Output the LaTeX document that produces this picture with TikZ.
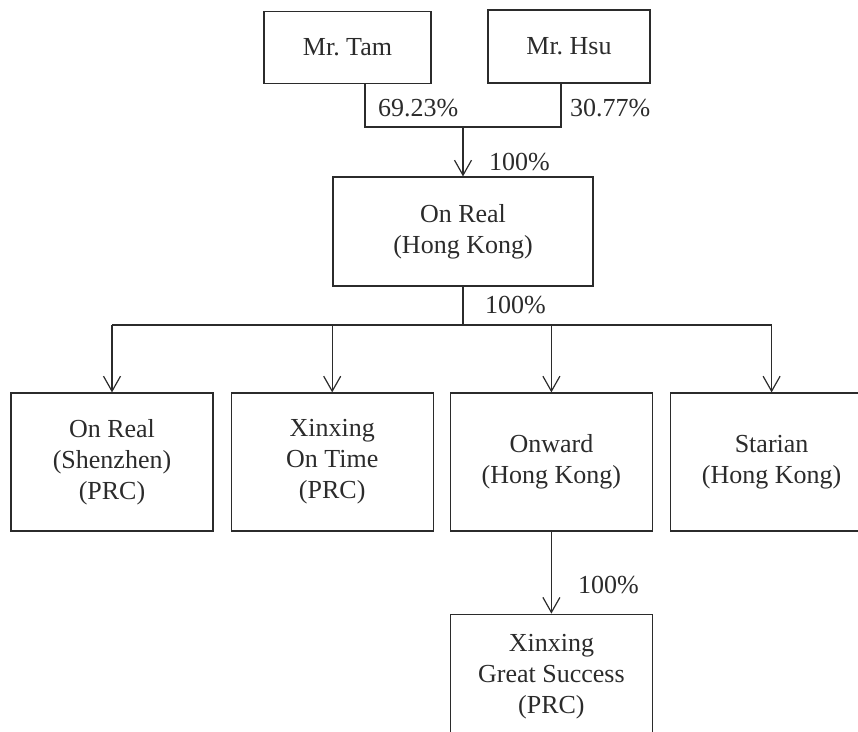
\documentclass[tikz,border=0pt]{standalone}
\usepackage{fontspec}
\setmainfont{Liberation Serif}
\frenchspacing
\usetikzlibrary{arrows.meta, positioning}
\definecolor{ink}{HTML}{2B2B2B}
\tikzset{
  entity/.style={rectangle, draw=ink, line width=1.2pt, align=center, text=ink,
    minimum width=202pt, minimum height=138pt, inner sep=0pt,
    font=\fontsize{26}{31}\selectfont},
  owner/.style={entity, minimum height=72pt},
  pct/.style={text=ink, inner sep=0pt, font=\fontsize{26}{31}\selectfont},
  link/.style={draw=ink, line width=1.2pt},
  arrow/.style={link, -{Straight Barb[length=15pt, width=17pt, line width=1.2pt]}},
}
\begin{document}
\begin{tikzpicture}[x=1pt, y=-1pt, node distance=0pt]
\useasboundingbox (0,0) rectangle (858,731);
\node[owner, minimum width=167pt] (tam) at (347.5,47.5) {Mr. Tam};
\node[owner, minimum width=162pt, minimum height=73pt] (hsu) at (569,46.5) {Mr. Hsu};
\node[entity, minimum width=260pt, minimum height=109pt] (onrealhk) at (463,231.5) {On Real\\(Hong Kong)};
\node[entity] (onrealsz) at (112,462) {On Real\\(Shenzhen)\\(PRC)};
\node[entity, right=17pt of onrealsz] (ontime) {Xinxing\\On Time\\(PRC)};
\node[entity, right=16pt of ontime] (onward) {Onward\\(Hong Kong)};
\node[entity, right=17pt of onward] (starian) {Starian\\(Hong Kong)};
\node[entity, minimum height=124pt, below=82pt of onward] (success) {Xinxing\\Great Success\\(PRC)};

% shareholders
\coordinate (tamleg) at (365,127);
\coordinate (hsuleg) at (561,127);
\coordinate (join) at (463,127);
\draw[link] (tamleg |- tam.south) -- (tamleg) -- (hsuleg) -- (hsuleg |- hsu.south);
\draw[arrow] (join) -- (onrealhk);
\node[pct, anchor=base west] (ptam) at (378,116) {69.23\%};
\node[pct, anchor=base west] (phsu) at (570,116) {30.77\%};
\node[pct, anchor=base west] (pjoin) at (489,170) {100\%};

% subsidiaries
\coordinate (bus) at (463,325);
\draw[link] (onrealhk) -- (bus);
\draw[link] (onrealsz.north |- bus) -- (starian.north |- bus);
\foreach \sub in {onrealsz, ontime, onward, starian}
  \draw[arrow] (\sub.north |- bus) -- (\sub);
\node[pct, anchor=base west] (pbus) at (485,313) {100\%};

\draw[arrow] (onward) -- (success);
\node[pct, anchor=base west] (psuccess) at (578,593) {100\%};
\end{tikzpicture}
\end{document}
